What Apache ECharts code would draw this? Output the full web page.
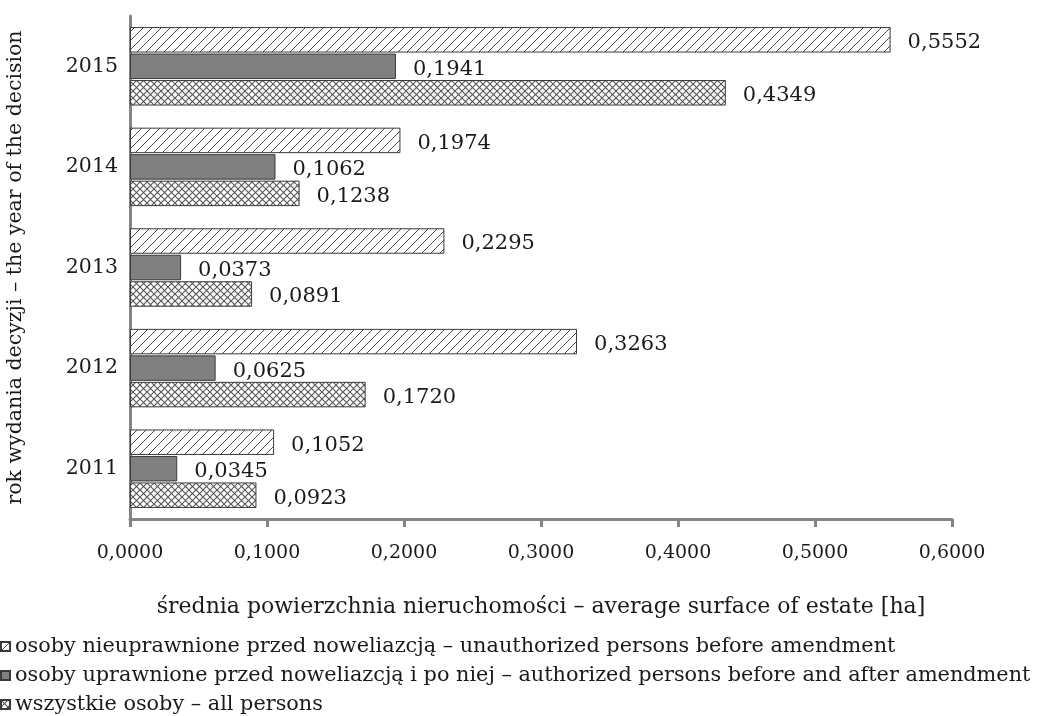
<!DOCTYPE html>
<html>
<head>
<meta charset="utf-8">
<script src="https://cdn.jsdelivr.net/npm/echarts@6/dist/echarts.min.js"></script>
<style>
  html, body { margin: 0; padding: 0; background: #ffffff; }
  #chart { width: 1039px; height: 716px; }
</style>
</head>
<body>
<div id="chart"></div>
<script>
// Years of the decision (bottom to top)
const years = ['2011', '2012', '2013', '2014', '2015'];

// Average surface of estate [ha]
const unauthorized = [0.1052, 0.3263, 0.2295, 0.1974, 0.5552];
const authorized   = [0.0345, 0.0625, 0.0373, 0.1062, 0.1941];
const allPersons   = [0.0923, 0.1720, 0.0891, 0.1238, 0.4349];

const seriesNames = [
  'osoby nieuprawnione przed noweliazcją – unauthorized persons before amendment',
  'osoby uprawnione przed noweliazcją i po niej – authorized persons before and after amendment',
  'wszystkie osoby – all persons'
];

const xTicks = [0, 0.1, 0.2, 0.3, 0.4, 0.5, 0.6];

const FONT = '"DejaVu Serif", "Liberation Serif", serif';
const TEXT = '#1a1a1a';

// Fill patterns for the bars
function diagonalHatch() {
  const s = 9;
  const c = document.createElement('canvas');
  c.width = s; c.height = s;
  const g = c.getContext('2d');
  g.fillStyle = '#ffffff';
  g.fillRect(0, 0, s, s);
  g.strokeStyle = '#4a4a4a';
  g.lineWidth = 1;
  g.beginPath();
  g.moveTo(-1, s + 1); g.lineTo(s + 1, -1);
  g.moveTo(-1, 1); g.lineTo(1, -1);
  g.moveTo(s - 1, s + 1); g.lineTo(s + 1, s - 1);
  g.stroke();
  return c;
}
function crossHatch() {
  const s = 7;
  const c = document.createElement('canvas');
  c.width = s; c.height = s;
  const g = c.getContext('2d');
  g.fillStyle = '#ffffff';
  g.fillRect(0, 0, s, s);
  g.strokeStyle = '#555555';
  g.lineWidth = 1.1;
  g.beginPath();
  g.moveTo(0, 0); g.lineTo(s, s);
  g.moveTo(0, s); g.lineTo(s, 0);
  g.stroke();
  return c;
}

const fmt = v => v.toFixed(4).replace('.', ',');

const labelStyle = {
  show: true,
  position: 'right',
  distance: 17,
  offset: [0, 3],
  fontFamily: FONT,
  fontSize: 21,
  color: TEXT,
  formatter: p => fmt(p.value)
};

function barSeries(name, data, fill) {
  return {
    name: name,
    type: 'bar',
    data: data,
    barGap: '4%',
    barCategoryGap: '22%',
    itemStyle: { color: fill, borderColor: '#3a3a3a', borderWidth: 1 },
    label: labelStyle,
    emphasis: { disabled: true },
    animation: false
  };
}

const chart = echarts.init(document.getElementById('chart'), null, { renderer: 'canvas' });

chart.setOption({
  backgroundColor: '#ffffff',
  animation: false,
  grid: { left: 130, right: 87, top: 16, bottom: 197, containLabel: false, outerBoundsMode: 'none' },
  legend: {
    data: seriesNames,
    orient: 'vertical',
    left: 0,
    top: 636,
    padding: 0,
    itemWidth: 9,
    itemHeight: 9,
    itemGap: 8,
    itemTextGap: 5,
    icon: 'rect',
    textStyle: { fontFamily: FONT, fontSize: 20.8, lineHeight: 21, color: TEXT },
    selectedMode: false
  },
  xAxis: {
    type: 'value',
    min: 0,
    max: 0.6,
    interval: 0.1,
    name: 'średnia powierzchnia nieruchomości – average surface of estate [ha]',
    nameLocation: 'middle',
    nameGap: 77,
    nameTextStyle: { fontFamily: FONT, fontSize: 22, color: TEXT },
    axisLine: { show: true, lineStyle: { color: '#858585', width: 3 } },
    axisTick: { show: true, length: 8, lineStyle: { color: '#858585', width: 3 } },
    axisLabel: {
      margin: 25,
      fontFamily: FONT,
      fontSize: 19,
      color: TEXT,
      formatter: v => fmt(v)
    },
    splitLine: { show: false }
  },
  yAxis: {
    type: 'category',
    data: years,
    name: 'rok wydania decyzji – the year of the decision',
    nameLocation: 'middle',
    nameGap: 104,
    nameRotate: 90,
    nameTextStyle: { fontFamily: FONT, fontSize: 20.5, color: TEXT },
    axisLine: { show: true, lineStyle: { color: '#858585', width: 3 } },
    axisTick: { show: false },
    axisLabel: { margin: 12, fontFamily: FONT, fontSize: 20.5, color: TEXT }
  },
  series: [
    barSeries(seriesNames[0], unauthorized, { image: diagonalHatch(), repeat: 'repeat' }),
    barSeries(seriesNames[1], authorized, '#808080'),
    barSeries(seriesNames[2], allPersons, { image: crossHatch(), repeat: 'repeat' })
  ]
});
</script>
</body>
</html>
